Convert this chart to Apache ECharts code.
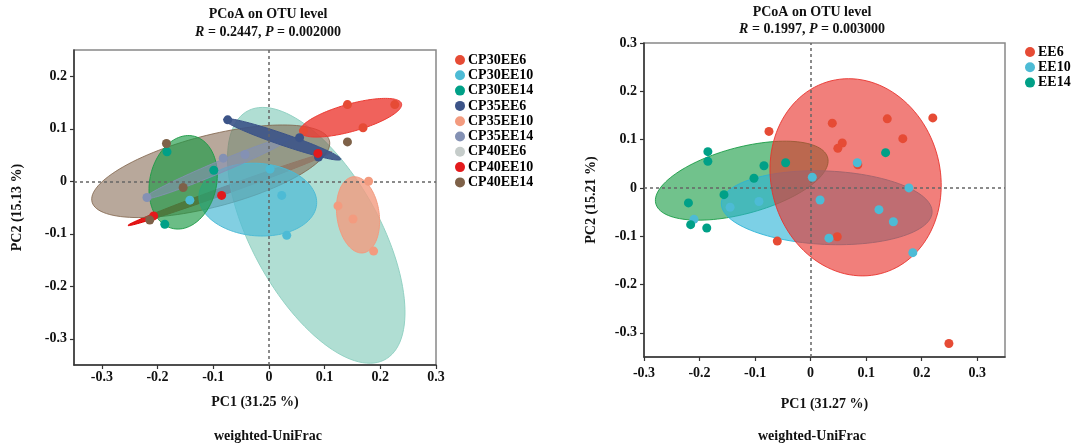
<!DOCTYPE html>
<html><head><meta charset="utf-8">
<script src="https://cdn.jsdelivr.net/npm/echarts@6/dist/echarts.min.js"></script>
<style>html,body{margin:0;padding:0;background:#fff}#c{width:1074px;height:446px}</style>
</head><body><div id="c"></div>
<script>
const FONT = 'Liberation Serif';
const tickValues = [-0.3, -0.2, -0.1, 0, 0.1, 0.2, 0.3];
const yTicksLeft = [-0.3, -0.2, -0.1, 0, 0.1, 0.2];

// ---- Left panel data ----
const groupsL = ['CP30EE6','CP30EE10','CP30EE14','CP35EE6','CP35EE10','CP35EE14','CP40EE6','CP40EE10','CP40EE14'];
const colorsL = ['#E64B35','#4DBBD5','#00A087','#3C5488','#F39B7F','#8491B4','#C5CCCA','#E31A1C','#7E6148'];
const CP30EE6  = [[0.141,0.146],[0.226,0.146],[0.169,0.102],[0.062,0.096]];
const CP30EE10 = [[-0.142,-0.036],[0.002,0.023],[0.023,-0.027],[0.032,-0.103]];
const CP30EE14 = [[-0.183,0.056],[-0.099,0.021],[-0.187,-0.082]];
const CP35EE6  = [[-0.074,0.117],[0.055,0.083],[0.089,0.046]];
const CP35EE10 = [[0.179,0.0],[0.124,-0.047],[0.151,-0.072],[0.188,-0.133]];
const CP35EE14 = [[-0.219,-0.031],[-0.082,0.044],[-0.043,0.051]];
const CP40EE6  = [];
const CP40EE10 = [[-0.207,-0.066],[-0.085,-0.027],[0.088,0.053]];
const CP40EE14 = [[-0.184,0.072],[-0.154,-0.012],[-0.214,-0.074],[0.141,0.075]];
const pointsL = [CP30EE6,CP30EE10,CP30EE14,CP35EE6,CP35EE10,CP35EE14,CP40EE6,CP40EE10,CP40EE14];
// confidence ellipses: [centre x, centre y, semi-axis a, semi-axis b, angle deg]
const ellipsesL = [
  [0.147, 0.121, 0.095, 0.026, 16.6],
  [-0.020, -0.035, 0.106, 0.069, -5],
  [-0.154, -0.002, 0.090, 0.060, 79],
  [0.024, 0.080, 0.112, 0.011, -20],
  [0.160, -0.064, 0.073, 0.038, 97],
  [-0.091, 0.026, 0.145, 0.011, 24],
  [0.085, -0.103, 0.267, 0.116, 117],
  [-0.070, -0.014, 0.196, 0.007, 21],
  [-0.1045, 0.019, 0.221, 0.068, 15.5]
];
const fillL = ['#EC3B33','#4DBBD5','#1B9A45','#3C5488','#F39B7F','#8491B4','#91D1C2','#E00000','#7E6148'];
const alphaL = [0.8, 0.7, 0.65, 0.9, 0.8, 0.6, 0.72, 0.9, 0.55];
const drawOrderL = [7, 6, 8, 1, 2, 5, 3, 4, 0];

// ---- Right panel data ----
const groupsR = ['EE6','EE10','EE14'];
const colorsR = ['#E64B35','#4DBBD5','#00A087'];
const EE6  = [[-0.075,0.117],[-0.060,-0.110],[0.039,0.134],[0.138,0.143],[0.220,0.145],[0.057,0.093],[0.049,0.082],[0.166,0.102],[0.085,0.048],[0.048,-0.101],[0.249,-0.322]];
const EE10 = [[-0.210,-0.065],[-0.145,-0.040],[-0.093,-0.028],[0.003,0.022],[0.017,-0.025],[0.084,0.052],[0.177,0.0],[0.123,-0.045],[0.149,-0.070],[0.033,-0.104],[0.184,-0.134]];
const EE14 = [[-0.185,0.075],[-0.185,0.055],[-0.084,0.046],[-0.045,0.052],[-0.102,0.020],[-0.156,-0.014],[-0.220,-0.031],[-0.216,-0.076],[-0.187,-0.083],[0.135,0.073]];
const pointsR = [EE6, EE10, EE14];
const ellipsesR = [
  [0.081, 0.022, 0.205, 0.153, 98],
  [0.029, -0.041, 0.190, 0.076, -3],
  [-0.124, 0.015, 0.162, 0.068, 18]
];
const fillR = ['#E8302A','#2BB3D6','#12993F'];
const alphaR = [0.62, 0.62, 0.6];
const drawOrderR = [2, 1, 0];

const titleTexts = ['PCoA on OTU level','PCoA on OTU level'];
const statTexts = ['{i|R} = 0.2447, {i|P} = 0.002000','{i|R} = 0.1997, {i|P} = 0.003000'];
const xNames = ['PC1 (31.25 %)','PC1 (31.27 %)'];
const yNames = ['PC2 (15.13 %)','PC2 (15.21 %)'];
const methodText = 'weighted-UniFrac';

function rgba(hex, a) {
  const n = parseInt(hex.slice(1), 16);
  return 'rgba(' + (n >> 16 & 255) + ',' + (n >> 8 & 255) + ',' + (n & 255) + ',' + a + ')';
}
function ellipseRender(color, alpha) {
  return function (params, api) {
    const cx = api.value(0), cy = api.value(1), a = api.value(2), b = api.value(3);
    const ang = api.value(4) * Math.PI / 180;
    const pts = [];
    const N = 120;
    for (let i = 0; i < N; i++) {
      const t = i / N * 2 * Math.PI;
      const x = cx + a * Math.cos(t) * Math.cos(ang) - b * Math.sin(t) * Math.sin(ang);
      const y = cy + a * Math.cos(t) * Math.sin(ang) + b * Math.sin(t) * Math.cos(ang);
      pts.push(api.coord([x, y]));
    }
    return { type: 'polygon', shape: { points: pts },
      style: { fill: rgba(color, alpha), stroke: rgba(color, Math.min(1, alpha + 0.25)), lineWidth: 1 } };
  };
}

const boldText = { fontFamily: FONT, fontWeight: 'bold', fontSize: 14, color: '#111' };
const fmt = v => String(Math.round(v * 10) / 10);

function xAxisCfg(gi, name, gap, margin, min, max) {
  return { gridIndex: gi, type: 'value', min: min, max: max,
    name: name, nameLocation: 'middle', nameGap: gap, nameTextStyle: boldText,
    axisLine: { show: true, onZero: false, lineStyle: { color: '#333', width: 1.5 } },
    axisTick: { show: true, length: 4, customValues: tickValues, lineStyle: { color: '#333', width: 1.2 } },
    axisLabel: { customValues: tickValues, formatter: fmt, margin: margin, ...boldText },
    splitLine: { show: false } };
}
function yAxisCfg(gi, name, gap, min, max, ticks) {
  return { gridIndex: gi, type: 'value', min: min, max: max,
    name: name, nameLocation: 'middle', nameGap: gap, nameTextStyle: boldText,
    axisLine: { show: true, onZero: false, lineStyle: { color: '#333', width: 1.5 } },
    axisTick: { show: true, length: 4, customValues: ticks, lineStyle: { color: '#333', width: 1.2 } },
    axisLabel: { customValues: ticks, formatter: fmt, margin: 7, ...boldText },
    splitLine: { show: false } };
}

const series = [];
function addPanel(gi, groups, colors, points, ellipses, fills, alphas, order) {
  order.forEach((i, k) => {
    series.push({ type: 'custom', name: '_e' + gi + '_' + i, xAxisIndex: gi, yAxisIndex: gi,
      renderItem: ellipseRender(fills[i], alphas[i]), data: [ellipses[i]], encode: { x: 0, y: 1 },
      clip: true, silent: true, z: 2 });
  });
  series.push({ type: 'scatter', name: '_ref' + gi, xAxisIndex: gi, yAxisIndex: gi, data: [], z: 3,
    markLine: { silent: true, symbol: 'none', animation: false,
      lineStyle: { type: [3, 3], color: '#666', width: 1.5 }, label: { show: false },
      data: [{ xAxis: 0 }, { yAxis: 0 }] } });
  groups.forEach((g, i) => {
    series.push({ type: 'scatter', name: g, xAxisIndex: gi, yAxisIndex: gi, data: points[i],
      symbolSize: 9, itemStyle: { color: colors[i], opacity: 1 }, z: 5 });
  });
}
addPanel(0, groupsL, colorsL, pointsL, ellipsesL, fillL, alphaL, drawOrderL);
addPanel(1, groupsR, colorsR, pointsR, ellipsesR, fillR, alphaR, drawOrderR);

const chart = echarts.init(document.getElementById('c'), null, { renderer: 'canvas' });
chart.setOption({
  animation: false,
  backgroundColor: '#fff',
  title: [
    { text: titleTexts[0], left: 268, top: 7, textAlign: 'center', padding: 0, textStyle: boldText },
    { text: statTexts[0], left: 268, top: 25, textAlign: 'center', padding: 0,
      textStyle: { ...boldText, rich: { i: { ...boldText, fontStyle: 'italic' } } } },
    { text: titleTexts[1], left: 812, top: 5, textAlign: 'center', padding: 0, textStyle: boldText },
    { text: statTexts[1], left: 812, top: 22, textAlign: 'center', padding: 0,
      textStyle: { ...boldText, rich: { i: { ...boldText, fontStyle: 'italic' } } } },
    { text: methodText, left: 268, top: 429, textAlign: 'center', padding: 0, textStyle: boldText },
    { text: methodText, left: 812, top: 429, textAlign: 'center', padding: 0, textStyle: boldText }
  ],
  legend: [
    { data: groupsL, orient: 'vertical', left: 455, top: 53, icon: 'circle', itemWidth: 10, itemHeight: 10,
      itemGap: 1.3, selectedMode: false, padding: 0, textStyle: { ...boldText, color: '#000', padding: [0, 0, 0, -2] } },
    { data: groupsR, orient: 'vertical', left: 1025, top: 45, icon: 'circle', itemWidth: 10, itemHeight: 10,
      itemGap: 1.3, selectedMode: false, padding: 0, textStyle: { ...boldText, color: '#000', padding: [0, 0, 0, -2] } }
  ],
  grid: [
    { left: 74, top: 50, width: 362, height: 315, show: true, borderColor: '#888', borderWidth: 1.5, backgroundColor: 'transparent' },
    { left: 644, top: 43, width: 361, height: 314, show: true, borderColor: '#888', borderWidth: 1.5, backgroundColor: 'transparent' }
  ],
  xAxis: [ xAxisCfg(0, xNames[0], 30, 5, -0.35, 0.3), xAxisCfg(1, xNames[1], 40, 9, -0.3, 0.35) ],
  yAxis: [ yAxisCfg(0, yNames[0], 50, -0.35, 0.25, yTicksLeft), yAxisCfg(1, yNames[1], 46, -0.35, 0.3, tickValues) ],
  series: series
});
</script></body></html>
